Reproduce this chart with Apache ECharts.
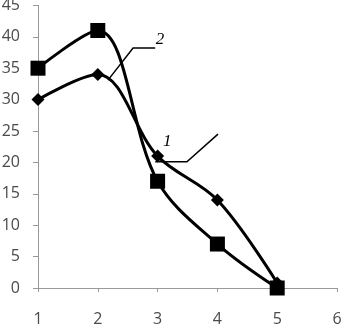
<!DOCTYPE html>
<html><head><meta charset="utf-8">
<script src="https://cdn.jsdelivr.net/npm/echarts@6/dist/echarts.min.js"></script>
<style>html,body{margin:0;padding:0;background:#fff}#c{width:344px;height:324px}</style>
</head><body><div id="c"></div>
<script>
var xValues = [1, 2, 3, 4, 5];
var series1 = [30, 34, 21, 14, 0.8];
var series2 = [35, 41, 17, 7, 0];
var label1 = '1', label2 = '2';
// annotation leader lines in data coordinates
var leader2 = [[2.17, 33.1], [2.59, 38.2], [2.96, 38.2]];
var leader2Text = [3.04, 39.6];
var leader1 = [[2.96, 20.1], [3.49, 20.1], [4.01, 24.5]];
var leader1Text = [3.16, 23.4];

function pairs(xs, ys){ return xs.map(function(x,i){return [x, ys[i]];}); }

var chart = echarts.init(document.getElementById('c'), null, {renderer:'canvas'});
var axisLabel = {color:'#4a4a4a', fontSize:16, fontFamily:'Open Sans'};
chart.setOption({
  animation:false,
  grid:{left:38, right:7, top:5.4, bottom:36, containLabel:false, outerBoundsMode:'none'},
  xAxis:{type:'value', min:1, max:6, interval:1,
    axisLine:{lineStyle:{color:'#999', width:1}},
    axisTick:{show:true, inside:false, length:4, lineStyle:{color:'#999'}},
    axisLabel:Object.assign({margin:23}, axisLabel),
    splitLine:{show:false}},
  yAxis:{type:'value', min:0, max:45, interval:5,
    axisLine:{show:true, lineStyle:{color:'#999', width:1}},
    axisTick:{show:true, inside:false, length:5, lineStyle:{color:'#999'}},
    axisLabel:Object.assign({margin:18}, axisLabel),
    splitLine:{show:false}},
  series:[
    {type:'line', data:pairs(xValues, series1), smooth:0.35, symbol:'diamond', symbolSize:13,
      lineStyle:{color:'#000', width:3}, itemStyle:{color:'#000'}, z:3},
    {type:'line', data:pairs(xValues, series2), smooth:0.35, symbol:'rect', symbolSize:15,
      lineStyle:{color:'#000', width:3}, itemStyle:{color:'#000'}, z:4}
  ]
});

function px(p){ return chart.convertToPixel({gridIndex:0}, p); }
var txtStyle = {fontFamily:'Liberation Serif', fontStyle:'italic', fontSize:17, fill:'#000'};
chart.setOption({graphic:[
  {type:'polyline', shape:{points:leader2.map(px)}, style:{stroke:'#000', lineWidth:1.5, fill:null}, z:10},
  {type:'polyline', shape:{points:leader1.map(px)}, style:{stroke:'#000', lineWidth:1.5, fill:null}, z:10},
  {type:'text', x:px(leader2Text)[0], y:px(leader2Text)[1], style:Object.assign({text:label2, textAlign:'center', textVerticalAlign:'middle'}, txtStyle), z:10},
  {type:'text', x:px(leader1Text)[0], y:px(leader1Text)[1], style:Object.assign({text:label1, textAlign:'center', textVerticalAlign:'middle'}, txtStyle), z:10}
]});
</script></body></html>
